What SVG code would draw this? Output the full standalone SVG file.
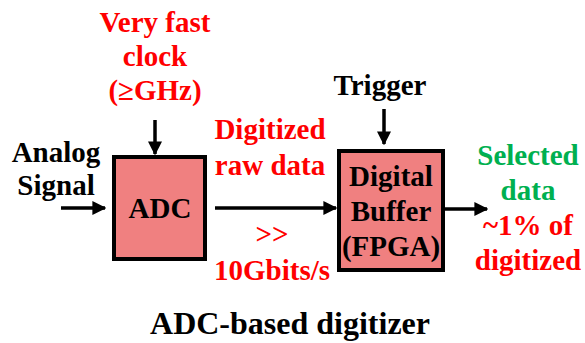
<svg xmlns="http://www.w3.org/2000/svg" width="585" height="343" viewBox="0 0 585 343">
<style>
text{font-family:"Liberation Serif","DejaVu Serif",serif;font-weight:bold;font-size:29px;text-anchor:middle}
.r{fill:#FF0000}.g{fill:#00B050}.k{fill:#000}
.box{fill:#F08080;stroke:#000;stroke-width:4}
.ln{stroke:#000;stroke-width:3.5;fill:none}
</style>
<defs>
<marker id="ah" viewBox="0 0 10 10" refX="9" refY="5" markerWidth="4" markerHeight="4" markerUnits="strokeWidth" orient="auto">
<path d="M0,0L10,5L0,10z" fill="#000"/>
</marker>
</defs>
<rect width="585" height="343" fill="#fff"/>
<g id="connectors">
<line class="ln" x1="61" y1="208" x2="105" y2="208" marker-end="url(#ah)"/>
<line class="ln" x1="215" y1="208" x2="336" y2="208" marker-end="url(#ah)"/>
<line class="ln" x1="445" y1="209" x2="487" y2="209" marker-end="url(#ah)"/>
<line class="ln" x1="155" y1="120" x2="155" y2="154" marker-end="url(#ah)"/>
<line class="ln" x1="384" y1="109" x2="384" y2="144" marker-end="url(#ah)"/>
</g>
<g id="adc">
<rect class="box" x="114" y="157" width="91" height="102"/>
<text class="k" x="160" y="218">ADC</text>
</g>
<g id="buffer">
<rect class="box" x="339" y="151" width="104" height="119"/>
<text class="k" x="391" y="186">Digital</text>
<text class="k" x="391" y="221">Buffer</text>
<text class="k" x="391" y="256">(FPGA)</text>
</g>
<g id="clock">
<text class="r" x="155" y="32">Very fast</text>
<text class="r" x="155" y="66">clock</text>
<text class="r" x="155" y="100">(≥GHz)</text>
</g>
<g id="trigger">
<text class="k" x="380" y="95">Trigger</text>
</g>
<g id="analog">
<text class="k" x="56" y="162">Analog</text>
<text class="k" x="56" y="195">Signal</text>
</g>
<g id="rawdata">
<text class="r" x="270" y="139">Digitized</text>
<text class="r" x="270" y="175">raw data</text>
<text class="r" x="272" y="244">&gt;&gt;</text>
<text class="r" x="272" y="280">10Gbits/s</text>
</g>
<g id="selected">
<text class="g" x="528" y="165">Selected</text>
<text class="g" x="528" y="200">data</text>
<text class="r" x="528" y="235">~1% of</text>
<text class="r" x="528" y="270">digitized</text>
</g>
<g id="caption">
<text class="k" x="290" y="334" style="font-size:32px">ADC-based digitizer</text>
</g>
</svg>
